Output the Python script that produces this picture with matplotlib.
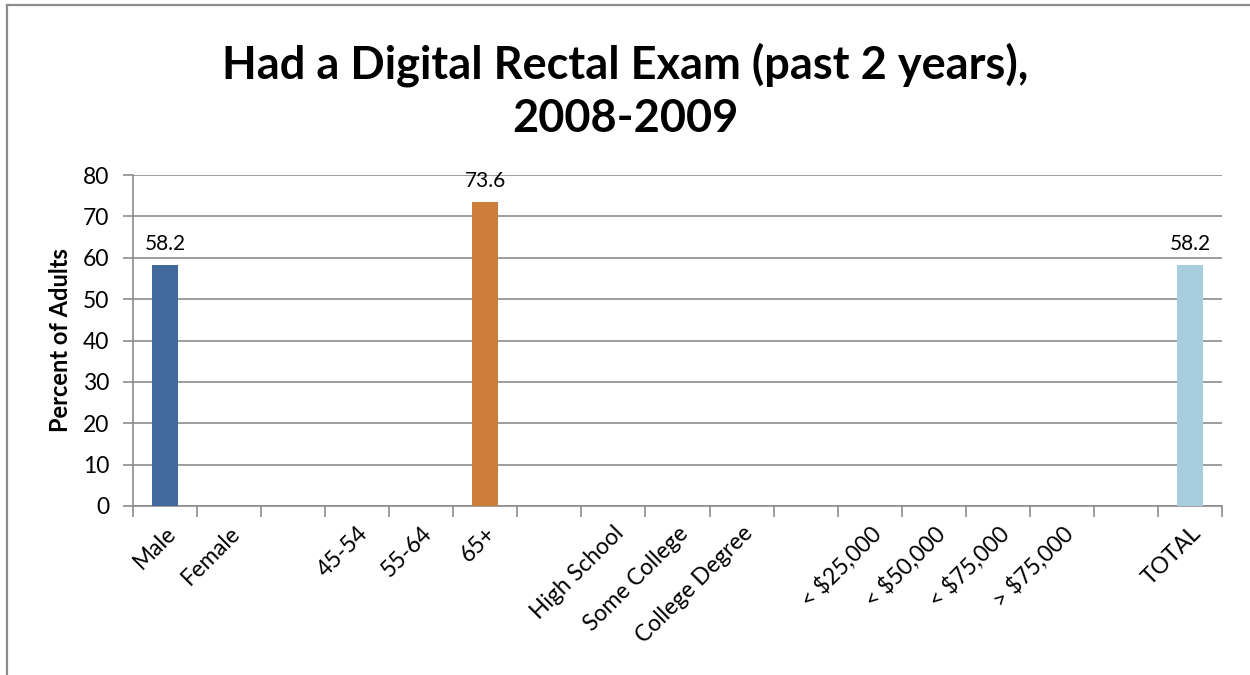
import numpy as np
import matplotlib
matplotlib.use("Agg")
from matplotlib import pyplot as plt
from matplotlib.lines import Line2D

# categories (empty strings are the spacer slots between groups)
categories = ['Male', 'Female', '', '45-54', '55-64', '65+', '',
              'High School', 'Some College', 'College Degree', '',
              '< $25,000', '< $50,000', '< $75,000', '> $75,000', '', 'TOTAL']
values = [58.2, np.nan, np.nan, np.nan, np.nan, 73.6, np.nan,
          np.nan, np.nan, np.nan, np.nan,
          np.nan, np.nan, np.nan, np.nan, np.nan, 58.2]
bar_colors = ['#41699B'] * 5 + ['#CD7D3A'] + ['#41699B'] * 10 + ['#A6CEDD']

plt.rcParams['font.family'] = ['Lato', 'DejaVu Sans']

fig = plt.figure(figsize=(12.5, 6.75), dpi=100)
# chart border only shows on the top and left edges
fig.lines.append(Line2D([6.5 / 1250, 6.5 / 1250], [0, 1 - 4.5 / 675], transform=fig.transFigure,
                        color='#8C8C8C', linewidth=1.6))
fig.lines.append(Line2D([6.5 / 1250, 1], [1 - 4.5 / 675, 1 - 4.5 / 675], transform=fig.transFigure,
                        color='#8C8C8C', linewidth=1.6))
ax = fig.add_axes([0.1064, 0.2504, 0.8712, 0.4903])

x = np.arange(len(categories))
ax.bar(x, values, width=0.41, color=bar_colors, zorder=3)

for xi, v in zip(x, values):
    if not np.isnan(v):
        ax.text(xi, v + 2.6, f'{v:.1f}', ha='center', va='bottom', fontsize=15)

ax.set_xlim(-0.5, len(categories) - 0.5)
ax.set_ylim(0, 80)
ax.set_yticks(np.arange(0, 81, 10))
ax.tick_params(axis='y', labelsize=16.5, length=7, color='#8C8C8C', width=1.2, pad=10)
ax.grid(axis='y', color='#8C8C8C', linewidth=1.2, zorder=0)

# category labels centred, ticks at the boundaries
ax.set_xticks(x)
ax.set_xticklabels(categories, rotation=45, ha='right', rotation_mode='anchor', fontsize=16.5)
ax.tick_params(axis='x', length=0, pad=12)
ax.set_xticks(np.arange(-0.5, len(categories)), minor=True)
ax.tick_params(axis='x', which='minor', length=8, color='#8C8C8C', width=1.2)

for s in ['top', 'right']:
    ax.spines[s].set_visible(False)
for s in ['left', 'bottom']:
    ax.spines[s].set_color('#8C8C8C')
    ax.spines[s].set_linewidth(1.2)

ax.set_ylabel('Percent of Adults', fontsize=17, fontweight='bold', labelpad=8)

fig.text(0.5, 0.865, 'Had a Digital Rectal Exam (past 2 years),\n2008-2009',
         ha='center', va='center', fontsize=32.5, fontweight='bold', linespacing=1.35)

fig.savefig('out.png', dpi=100)
